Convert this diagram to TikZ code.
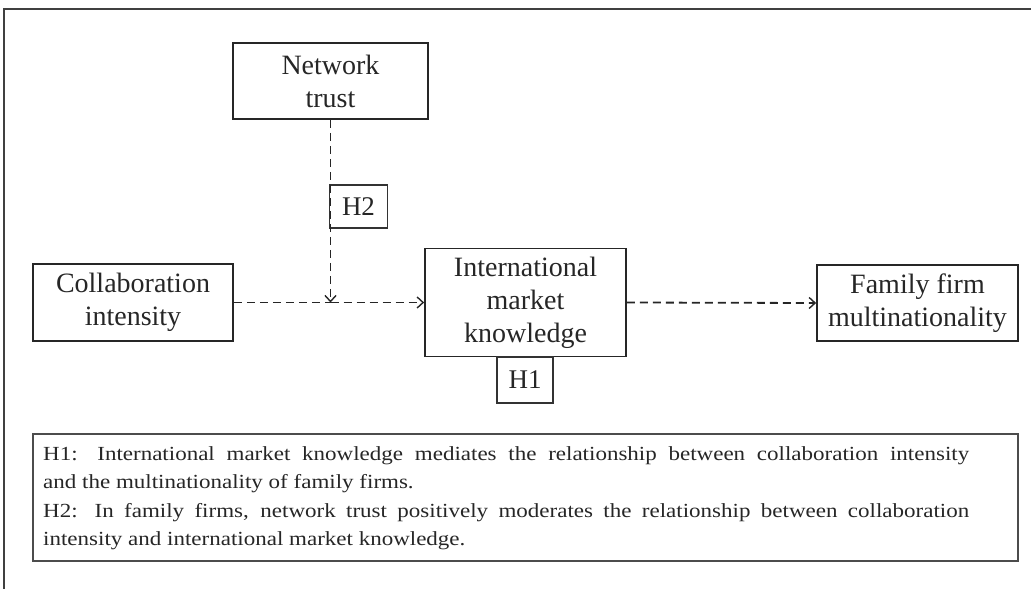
\documentclass[tikz,border=0pt]{standalone}
\usepackage{fontspec}
\setmainfont{Liberation Serif}
\newfontfamily\legfont[FakeStretch=1.15]{Liberation Serif}
\usetikzlibrary{arrows.meta}
\begin{document}
\begin{tikzpicture}[x=1pt,y=-1pt,
  box/.style={draw=black!85,line width=1.7pt,inner sep=0pt,align=center,
    font=\fontsize{28}{33}\selectfont,text=black!85},
  hbox/.style={draw=black!80,line width=1.1pt,inner sep=0pt,align=center,
    font=\fontsize{27}{32}\selectfont,text=black!85},
  dline/.style={draw=black!85,line width=1.8pt,dash pattern=on 8pt off 5pt},
  tip/.style={-{Straight Barb[length=6pt,width=11pt,line width=1.4pt]}},
  frame/.style={draw=black!75,line width=2pt}]
\useasboundingbox (0,0) rectangle (1031,589);
% outer frame (partially visible)
\draw[frame] (4,589) -- (4,9) -- (1031,9);
% main boxes
\node[box,minimum width=195pt,minimum height=76pt] (nt) at (330.5,81) {Network\\trust};
\node[box,minimum width=200pt,minimum height=77pt] (ci) at (133,302.5) {Collaboration\\intensity};
\node[box,minimum width=201pt,minimum height=108pt] (imk) at (525.5,302.5) {International\\market\\knowledge};
\node[box,minimum width=201pt,minimum height=76pt] (ffm) at (917.5,303) {Family firm\\multinationality};
% hypothesis labels
\node[hbox,minimum width=56pt,minimum height=46pt] (h1) at (525,380) {H1};
\node[hbox,minimum width=58pt,minimum height=43pt] (h2) at (358.5,206.5) {H2};
% connectors
\coordinate (mod) at (nt.south |- imk.west);
\draw[dline] (ci.east) -- (mod);
\draw[dline,tip] (mod) -- (imk.west);
\draw[dline,tip] (nt.south) -- (mod);
\draw[dline,tip] (imk.east) -- (ffm.west);
% legend box
\node[draw=black!70,line width=1.3pt,minimum width=985pt,minimum height=127pt,inner sep=0pt] (leg) at (525.5,497.5) {};
\node[anchor=north west,inner sep=0pt,text width=926pt,align=justify,text=black!85,
  font=\legfont\fontsize{20}{28.5}\selectfont] (legtext) at (43,446)
  {H1: International market knowledge mediates the relationship between collaboration intensity\linebreak
   and the multinationality of family firms.\\
   H2: In family firms, network trust positively moderates the relationship between collaboration\linebreak
   intensity and international market knowledge.\par};
\end{tikzpicture}
\end{document}
